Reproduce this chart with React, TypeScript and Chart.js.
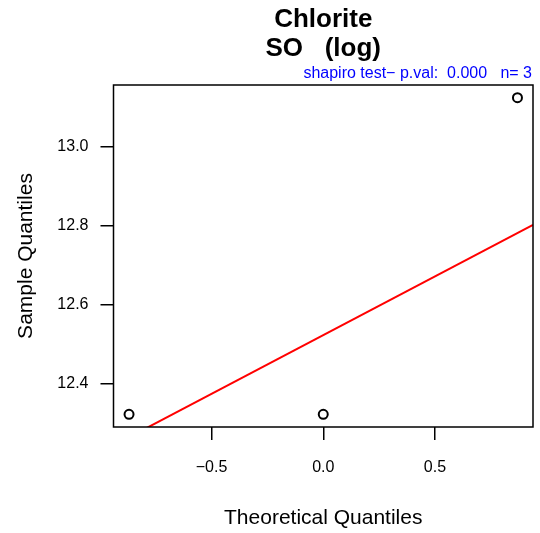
import React, { useEffect, useRef } from "react";
import { Chart, registerables } from "chart.js";
Chart.register(...registerables);

const mainTitle = ["Chlorite", "SO   (log)"];
const subTitle = "shapiro test\u2212 p.val:  0.000   n= 3";
const xTitle = "Theoretical Quantiles";
const yTitle = "Sample Quantiles";
const theoretical = [-0.8694, 0, 0.8694];
const sample = [12.323, 12.323, 13.123];
const xTicks = [-0.5, 0, 0.5];
const yTicks = [12.4, 12.6, 12.8, 13.0];
const qnorm75 = 0.6745;

const FONT = "'Liberation Sans', Arial, Helvetica, sans-serif";

function ext(vals: number[]) {
  const mn = Math.min(...vals);
  const mx = Math.max(...vals);
  const d = (mx - mn) * 0.04;
  return [mn - d, mx + d];
}
function quantile7(vals: number[], p: number) {
  const s = [...vals].sort((a, b) => a - b);
  const h = (s.length - 1) * p;
  const lo = Math.floor(h);
  const hi = Math.ceil(h);
  return s[lo] + (h - lo) * (s[hi] - s[lo]);
}
const fmt = (v: number) => v.toFixed(1).replace("-", "\u2212");

export default function App() {
  const ref = useRef<HTMLCanvasElement>(null);
  useEffect(() => {
    const [xmin, xmax] = ext(theoretical);
    const [ymin, ymax] = ext(sample);
    const q1 = quantile7(sample, 0.25);
    const q3 = quantile7(sample, 0.75);
    const slope = (q3 - q1) / (2 * qnorm75);
    const inter = q1 + slope * qnorm75;
    const lineData = [xmin, xmax].map((x) => ({ x, y: inter + slope * x }));

    const textPlugin = {
      id: "rtext",
      afterDraw(chart: any) {
        const ctx = chart.ctx;
        const a = chart.chartArea;
        ctx.save();
        ctx.strokeStyle = "#000";
        ctx.lineWidth = 1.5;
        ctx.strokeRect(a.left, a.top, a.right - a.left, a.bottom - a.top);
        const cx = (a.left + a.right) / 2;
        ctx.fillStyle = "#000";
        ctx.textAlign = "center";
        ctx.textBaseline = "alphabetic";
        ctx.font = `bold 26px ${FONT}`;
        ctx.fillText(mainTitle[0], cx, 27);
        ctx.fillText(mainTitle[1], cx, 56);
        ctx.fillStyle = "#0000ff";
        ctx.textAlign = "right";
        ctx.font = `16px ${FONT}`;
        ctx.fillText(subTitle, a.right - 1, 78);
        ctx.fillStyle = "#000";
        ctx.textAlign = "center";
        ctx.font = `21px ${FONT}`;
        ctx.fillText(xTitle, cx, 524);
        ctx.translate(32, (a.top + a.bottom) / 2);
        ctx.rotate(-Math.PI / 2);
        ctx.fillText(yTitle, 0, 0);
        ctx.restore();
      },
    };

    const chart = new Chart(ref.current!, {
      type: "scatter",
      data: {
        datasets: [
          {
            data: theoretical.map((x, i) => ({ x, y: sample[i] })),
            showLine: false,
            pointStyle: "circle",
            pointRadius: 4.5,
            pointBorderWidth: 2,
            pointBorderColor: "#000",
            pointBackgroundColor: "rgba(0,0,0,0)",
            clip: false as any,
          },
          {
            data: lineData,
            showLine: true,
            borderColor: "#ff0000",
            borderWidth: 2,
            pointRadius: 0,
            clip: 0 as any,
          },
        ],
      },
      options: {
        responsive: false,
        devicePixelRatio: 1,
        animation: false,
        layout: { padding: { top: 85, right: 7, left: 0, bottom: 0 } },
        plugins: { legend: { display: false }, tooltip: { enabled: false } },
        scales: {
          x: {
            type: "linear",
            min: xmin,
            max: xmax,
            afterFit: (s: any) => {
              s.height = 106;
            },
            afterBuildTicks: (s: any) => {
              s.ticks = xTicks.map((v) => ({ value: v }));
            },
            grid: {
              drawOnChartArea: false,
              drawTicks: true,
              tickLength: 13,
              color: "#000",
              lineWidth: 1.5,
            },
            border: { display: false },
            ticks: {
              color: "#000",
              font: { family: FONT, size: 16 },
              padding: 18,
              maxRotation: 0,
              callback: (v: any) => fmt(Number(v)),
            },
          },
          y: {
            type: "linear",
            min: ymin,
            max: ymax,
            afterFit: (s: any) => {
              s.width = 113.5;
            },
            afterBuildTicks: (s: any) => {
              s.ticks = yTicks.map((v) => ({ value: v }));
            },
            grid: {
              drawOnChartArea: false,
              drawTicks: true,
              tickLength: 13,
              color: "#000",
              lineWidth: 1.5,
            },
            border: { display: false },
            ticks: {
              color: "#000",
              font: { family: FONT, size: 16 },
              padding: 12,
              callback: (v: any) => fmt(Number(v)),
            },
          },
        },
      },
      plugins: [textPlugin],
    });
    return () => chart.destroy();
  }, []);
  return (
    <div style={{ position: "fixed", left: 0, top: 0, width: 540, height: 533, background: "#fff" }}>
      <canvas ref={ref} width={540} height={533} style={{ width: 540, height: 533 }} />
    </div>
  );
}
